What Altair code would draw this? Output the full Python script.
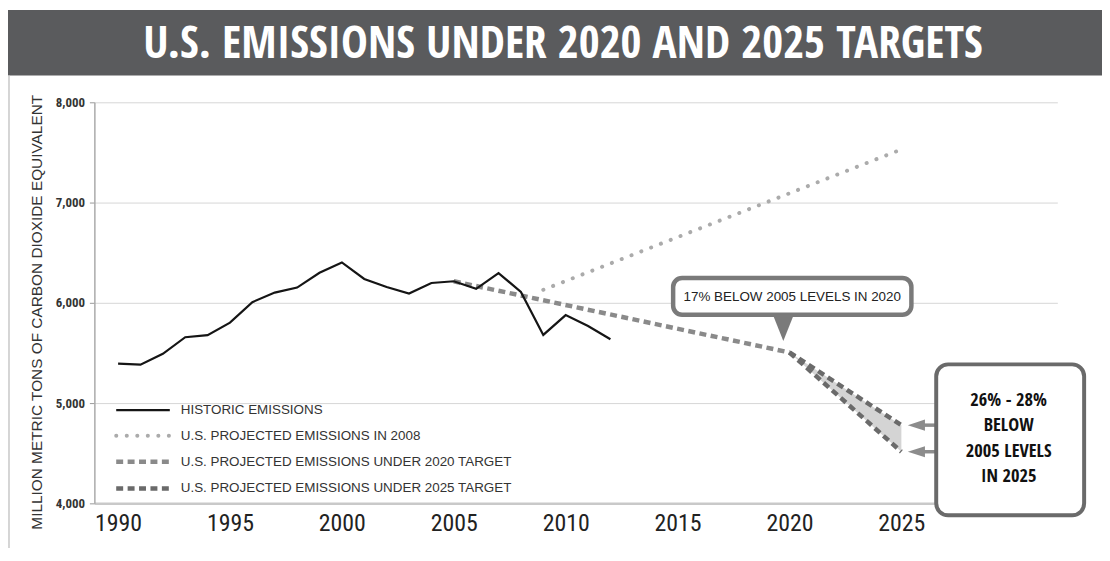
import altair as alt
import pandas as pd

# ---------------- data ----------------
hist_years = list(range(1990, 2013))
hist_values = [5393, 5383, 5492, 5657, 5677, 5802, 6007, 6102, 6152, 6300, 6403,
               6238, 6158, 6092, 6198, 6215, 6139, 6297, 6109, 5680, 5878, 5769, 5637]

proj2008_years = [2009, 2025]
proj2008_values = [6130, 7530]

t2020_years = [2005, 2020]
t2020_values = [6215, 5505]

t2025_years = [2020, 2025]
t2025_upper = [5505, 4780]
t2025_lower = [5505, 4515]

x_ticks = [1990, 1995, 2000, 2005, 2010, 2015, 2020, 2025]
y_ticks = [4000, 5000, 6000, 7000, 8000]

title_text = "U.S. EMISSIONS UNDER 2020 AND 2025 TARGETS"
y_title = "MILLION METRIC TONS OF CARBON DIOXIDE EQUIVALENT"
legend_labels = ["HISTORIC EMISSIONS",
                 "U.S. PROJECTED EMISSIONS IN 2008",
                 "U.S. PROJECTED EMISSIONS UNDER 2020 TARGET",
                 "U.S. PROJECTED EMISSIONS UNDER 2025 TARGET"]
callout_2020 = "17% BELOW 2005 LEVELS IN 2020"
callout_2025 = ["26% - 28%", "BELOW", "2005 LEVELS", "IN 2025"]

# ---------------- styling ----------------
TITLEF = "Open Sans Condensed, Roboto Condensed, sans-serif"
COND = "Roboto Condensed, PT Sans Narrow, sans-serif"
REG = "Liberation Sans, Arial, sans-serif"
W, H = 970, 404

hist_df = pd.DataFrame({"year": hist_years, "value": hist_values})
p08_df = pd.DataFrame({"year": proj2008_years, "value": proj2008_values})
t20_df = pd.DataFrame({"year": t2020_years, "value": t2020_values})
t25_df = pd.DataFrame({
    "year": t2025_years + t2025_years,
    "value": t2025_upper + t2025_lower,
    "series": ["upper"] * 2 + ["lower"] * 2,
})
band_df = pd.DataFrame({"year": t2025_years, "upper": t2025_upper, "lower": t2025_lower})
arrow_df = pd.DataFrame({"value": [t2025_upper[-1], t2025_lower[-1]]})

xs = alt.Scale(domain=[1988.94, 2031.97], nice=False, zero=False)
ys = alt.Scale(domain=[4000, 8000], nice=False, zero=False)

XA = alt.Axis(values=x_ticks, format="d", title=None, grid=False, ticks=False,
              domain=True, domainColor="#c9c9c9", domainWidth=2.5,
              labelFont=COND, labelFontSize=24, labelColor="#222",
              labelPadding=8, labelFlush=False, zindex=0)
YA = alt.Axis(values=y_ticks, format=",.0f", title=y_title, grid=True,
              gridColor="#d6d6d6", gridWidth=1, tickSize=5, tickColor="#999",
              domainColor="#aaa", domainWidth=1.5,
              labelFont=COND, labelFontSize=13, labelFontWeight="bold", labelColor="#333",
              labelPadding=5, titleFont=REG, titleFontSize=15.5, titleFontWeight="normal",
              titleColor="#333", titleX=-58, titleY=211, titleAlign="center",
              titleBaseline="middle", zindex=0)

X = alt.X("year:Q", scale=xs, axis=XA)
Y = alt.Y("value:Q", scale=ys, axis=YA)

historic = alt.Chart(hist_df).mark_line(color="#151515", strokeWidth=2.2).encode(x=X, y=Y)

band = alt.Chart(band_df).mark_area(color="#d4d4d4", opacity=1).encode(
    x=X, y=alt.Y("upper:Q", scale=ys, axis=YA), y2="lower:Q")

proj08 = alt.Chart(p08_df).mark_line(
    color="#ababab", strokeWidth=4, strokeDash=[0.1, 10.5], strokeCap="round"
).encode(x=X, y=Y)

t20 = alt.Chart(t20_df).mark_line(
    color="#8a8a8a", strokeWidth=4.5, strokeDash=[7, 4.5]
).encode(x=X, y=Y)

t25 = alt.Chart(t25_df).mark_line(
    color="#6a6a6a", strokeWidth=4.5, strokeDash=[7, 4.5]
).encode(x=X, y=Y, detail="series:N")

# arrows pointing at the 2025 range ends
arrow_shaft = alt.Chart(arrow_df).mark_rule(color="#8c8c8c", strokeWidth=3.5).encode(
    x=alt.value(830), x2=alt.value(848), y=Y)
arrow_head = alt.Chart(arrow_df).mark_point(
    shape="M-1,0 L1,-0.65 L1,0.65 Z", filled=True, color="#8c8c8c", size=300, opacity=1
).encode(x=alt.value(828), y=Y)

# callout 2020
one = pd.DataFrame({"t": [callout_2020]})
box20 = alt.Chart(one).mark_rect(
    fill="white", stroke="#7a7a7a", strokeWidth=4.5, cornerRadius=9
).encode(x=alt.value(583), x2=alt.value(823), y=alt.value(177), y2=alt.value(214))
ptr20 = alt.Chart(one).mark_point(
    shape="M-1,-1.25 L1,-1.25 L0,1.25 Z", filled=True, color="#7a7a7a", size=460, opacity=1
).encode(x=alt.value(694), y=alt.value(227))
txt20 = alt.Chart(one).mark_text(
    font=REG, fontSize=13.5, color="#222", baseline="middle", align="center"
).encode(x=alt.value(703), y=alt.value(196), text="t:N")

# callout 2025
box25 = alt.Chart(pd.DataFrame({"t": ["box"]})).mark_rect(
    fill="white", stroke="#6a6a6a", strokeWidth=4, cornerRadius=12
).encode(x=alt.value(848), x2=alt.value(997), y=alt.value(264), y2=alt.value(416))
txt25_layers = []
for line, ly in zip(callout_2025, [300, 325.5, 351, 376.5]):
    txt25_layers.append(alt.Chart(pd.DataFrame({"t": [line]})).mark_text(
        font=TITLEF, fontSize=18.5, fontWeight="bold", color="#111", baseline="middle",
        align="center"
    ).encode(x=alt.value(921), y=alt.value(ly), text="t:N"))

# legend (manual)
leg_rows = [310, 336, 362, 389]
leg_styles = [
    dict(color="#151515", strokeWidth=2.2),
    dict(color="#ababab", strokeWidth=4, strokeDash=[0.1, 10.5], strokeCap="round"),
    dict(color="#8a8a8a", strokeWidth=4.5, strokeDash=[7, 4.5]),
    dict(color="#6a6a6a", strokeWidth=4.5, strokeDash=[7, 4.5]),
]
leg_layers = []
for lab, ry, st in zip(legend_labels, leg_rows, leg_styles):
    d = pd.DataFrame({"label": [lab]})
    leg_layers.append(alt.Chart(d).mark_rule(**st).encode(
        x=alt.value(22), x2=alt.value(76), y=alt.value(ry)))
    leg_layers.append(alt.Chart(d).mark_text(
        font=REG, fontSize=13.5, color="#333", align="left", baseline="middle"
    ).encode(x=alt.value(87), y=alt.value(ry), text="label:N"))

# title bar
tt = pd.DataFrame({"t": [title_text]})
bar = alt.Chart(tt).mark_rect(color="#5a5b5d").encode(
    x=alt.value(-87), x2=alt.value(1020), y=alt.value(-93), y2=alt.value(-27))
title = alt.Chart(tt).mark_text(
    font=TITLEF, fontSize=45.5, fontWeight="bold", color="white", align="center", baseline="middle"
).encode(x=alt.value(472), y=alt.value(-59), text="t:N")

border = alt.Chart(pd.DataFrame({"t": ["b"]})).mark_rule(color="#c8c8c8", strokeWidth=1.5).encode(
    x=alt.value(-86), y=alt.value(-27), y2=alt.value(449))

chart = alt.layer(
    band, proj08, t20, t25, historic,
    arrow_shaft, arrow_head,
    box20, ptr20, txt20, box25, *txt25_layers,
    *leg_layers, bar, title, border,
).properties(
    width=W, height=H,
    autosize=alt.AutoSizeParams(type="none"),
    padding={"left": 87, "top": 93, "right": 45, "bottom": 45},
    background="white",
).configure_view(stroke=None)

chart.save("out.html", embed_options={"renderer": "svg", "actions": False})
